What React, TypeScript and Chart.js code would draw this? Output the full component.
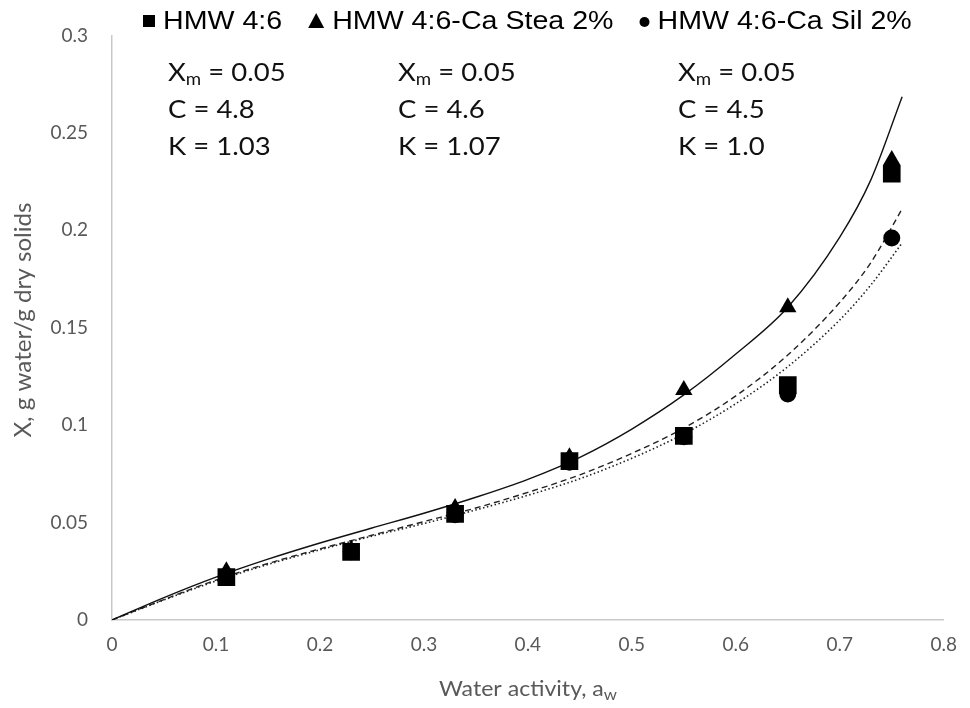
import React, { useEffect, useRef } from "react";
import { Chart, registerables } from "chart.js";

Chart.register(...registerables);

// Fitted curve readings (water activity vs moisture)
const awFit = [0, 0.05, 0.1, 0.15, 0.2, 0.25, 0.3, 0.35, 0.4, 0.45, 0.5, 0.55, 0.6, 0.65, 0.7, 0.73, 0.76];
const steaFit = [0, 0.0115, 0.022, 0.0312, 0.0395, 0.0472, 0.0548, 0.063, 0.0722, 0.0835, 0.098, 0.1155, 0.1365, 0.1605, 0.1965, 0.226, 0.2685];
const hmwFit = [0, 0.0105, 0.0205, 0.029, 0.0365, 0.0435, 0.0505, 0.0575, 0.0655, 0.0745, 0.0855, 0.0985, 0.115, 0.136, 0.163, 0.1835, 0.211];
const silFit = [0, 0.0103, 0.02, 0.0285, 0.036, 0.043, 0.0495, 0.0565, 0.064, 0.0725, 0.083, 0.0955, 0.111, 0.13, 0.154, 0.172, 0.1935];

// Observed points
const awObs = [0.11, 0.23, 0.33, 0.44, 0.55, 0.65, 0.75];
const hmwObs = [0.022, 0.035, 0.0545, 0.0815, 0.0945, 0.1205, 0.229];
const steaObs = [0.025, 0.036, 0.0575, 0.0835, 0.118, 0.1605, 0.236];
const silObs = [0.022, 0.035, 0.054, 0.081, 0.094, 0.116, 0.196];

const seriesNames = ["HMW 4:6", "HMW 4:6-Ca Stea 2%", "HMW 4:6-Ca Sil 2%"];
const xmLabels = ["0.05", "0.05", "0.05"];
const cLabels = ["4.8", "4.6", "4.5"];
const kLabels = ["1.03", "1.07", "1.0"];

const xTicks = [0, 0.1, 0.2, 0.3, 0.4, 0.5, 0.6, 0.7, 0.8];
const yTicks = [0, 0.05, 0.1, 0.15, 0.2, 0.25, 0.3];

const pts = (xs: number[], ys: number[]) => xs.map((x, i) => ({ x, y: ys[i] }));

type Part = { t: string; sub?: boolean };

function drawRich(
  ctx: CanvasRenderingContext2D,
  parts: Part[],
  x: number,
  y: number,
  size: number,
  subSize: number,
  family: string,
  align: "left" | "center",
  sx = 1
) {
  const widths = parts.map((p) => {
    ctx.font = `${p.sub ? subSize : size}px ${family}`;
    return ctx.measureText(p.t).width * sx;
  });
  const total = widths.reduce((a, b) => a + b, 0);
  let cx = align === "center" ? x - total / 2 : x;
  ctx.textBaseline = "middle";
  ctx.textAlign = "left";
  parts.forEach((p, i) => {
    ctx.font = `${p.sub ? subSize : size}px ${family}`;
    ctx.save();
    ctx.translate(cx, p.sub ? y + size * 0.28 : y);
    ctx.scale(sx, 1);
    ctx.fillText(p.t, 0, 0);
    ctx.restore();
    cx += widths[i];
  });
}

const overlayPlugin = {
  id: "overlay",
  afterDraw(chart: any) {
    const ctx: CanvasRenderingContext2D = chart.ctx;
    ctx.save();
    // Legend
    const lf = "'Liberation Sans', Arial, sans-serif";
    ctx.fillStyle = "#000";
    ctx.textBaseline = "middle";
    ctx.textAlign = "left";
    const ly = 21;
    let lx = 143;
    const markers = ["rect", "tri", "circ"];
    seriesNames.forEach((name, i) => {
      const m = markers[i];
      ctx.fillStyle = "#000";
      let mw = 12;
      if (m === "rect") {
        ctx.fillRect(lx, ly - 6, 12, 12);
        mw = 12;
      } else if (m === "tri") {
        ctx.beginPath();
        ctx.moveTo(lx, ly + 7);
        ctx.lineTo(lx + 16, ly + 7);
        ctx.lineTo(lx + 8, ly - 8);
        ctx.closePath();
        ctx.fill();
        mw = 16;
      } else {
        ctx.beginPath();
        ctx.arc(lx + 5, ly + 1, 5, 0, Math.PI * 2);
        ctx.fill();
        mw = 10;
      }
      lx += mw + 8;
      const sx = 1.1;
      ctx.save();
      ctx.translate(lx, ly);
      ctx.scale(sx, 1);
      ctx.font = `26px ${lf}`;
      ctx.fillText(name, 0, 1);
      const w = ctx.measureText(name).width * sx;
      ctx.restore();
      lx += w + 26;
    });

    // Parameter annotations
    const af = "Lato, 'Open Sans', sans-serif";
    ctx.fillStyle = "#111";
    const cols = [168, 398, 678];
    cols.forEach((cx, i) => {
      drawRich(ctx, [{ t: "X" }, { t: "m", sub: true }, { t: " = " + xmLabels[i] }], cx, 73, 25, 17, af, "left", 1.1);
      drawRich(ctx, [{ t: "C = " + cLabels[i] }], cx, 110, 25, 17, af, "left", 1.1);
      drawRich(ctx, [{ t: "K = " + kLabels[i] }], cx, 147, 25, 17, af, "left", 1.1);
    });

    // Axis titles
    ctx.fillStyle = "#595959";
    drawRich(ctx, [{ t: "Water activity, a" }, { t: "w", sub: true }], 528, 689, 22, 16, af, "center", 1.05);
    ctx.save();
    ctx.translate(24, 320);
    ctx.rotate(-Math.PI / 2);
    drawRich(ctx, [{ t: "X, g water/g dry solids" }], 0, 0, 23, 16, af, "center", 1.05);
    ctx.restore();
    ctx.restore();
  },
};

export default function App() {
  const ref = useRef<HTMLCanvasElement | null>(null);
  useEffect(() => {
    if (!ref.current) return;
    const chart = new Chart(ref.current, {
      type: "scatter",
      data: {
        datasets: [
          {
            label: seriesNames[0],
            data: pts(awObs, hmwObs),
            pointStyle: "rect",
            pointRadius: 12.5,
            pointBorderWidth: 0,
            backgroundColor: "#000",
            borderColor: "#000",
            order: 0,
          },
          {
            label: seriesNames[1],
            data: pts(awObs, steaObs),
            pointStyle: "triangle",
            pointRadius: 10,
            pointBorderWidth: 0,
            backgroundColor: "#000",
            borderColor: "#000",
            order: 1,
          },
          {
            label: seriesNames[2],
            data: pts(awObs, silObs),
            pointStyle: "circle",
            pointRadius: 8.5,
            pointBorderWidth: 0,
            backgroundColor: "#000",
            borderColor: "#000",
            order: 2,
          },
          {
            type: "line",
            label: "fit Stea",
            data: pts(awFit, steaFit),
            borderColor: "#111",
            borderWidth: 1.4,
            pointRadius: 0,
            cubicInterpolationMode: "monotone",
            fill: false,
            order: 3,
          } as any,
          {
            type: "line",
            label: "fit HMW",
            data: pts(awFit, hmwFit),
            borderColor: "#222",
            borderWidth: 1.4,
            borderDash: [6, 4],
            pointRadius: 0,
            cubicInterpolationMode: "monotone",
            fill: false,
            order: 4,
          } as any,
          {
            type: "line",
            label: "fit Sil",
            data: pts(awFit, silFit),
            borderColor: "#222",
            borderWidth: 1.6,
            borderDash: [1.5, 2.5],
            pointRadius: 0,
            cubicInterpolationMode: "monotone",
            fill: false,
            order: 5,
          } as any,
        ],
      },
      options: {
        responsive: false,
        animation: false,
        layout: { padding: { top: 20, right: 23, left: 0, bottom: 0 } },
        plugins: {
          legend: { display: false },
          tooltip: { enabled: false },
          title: { display: false },
        },
        scales: {
          x: {
            type: "linear",
            min: 0,
            max: 0.8,
            afterFit: (s: any) => {
              s.height = 88;
            },
            afterBuildTicks: (s: any) => {
              s.ticks = xTicks.map((v) => ({ value: v }));
            },
            grid: { display: false, drawTicks: false },
            border: { display: true, color: "#c9c9c9", width: 1.5 },
            ticks: {
              padding: 13,
              color: "#595959",
              font: { family: "Lato, 'Open Sans', sans-serif", size: 19 },
              callback: (v: any) => String(Number(Number(v).toFixed(2))),
            },
          },
          y: {
            type: "linear",
            min: 0,
            max: 0.3,
            afterFit: (s: any) => {
              s.width = 112;
            },
            afterBuildTicks: (s: any) => {
              s.ticks = yTicks.map((v) => ({ value: v }));
            },
            grid: { display: false, drawTicks: false },
            border: { display: true, color: "#c9c9c9", width: 1.5 },
            ticks: {
              padding: 24,
              color: "#595959",
              font: { family: "Lato, 'Open Sans', sans-serif", size: 19 },
              callback: (v: any) => String(Number(Number(v).toFixed(2))),
            },
          },
        },
      },
      plugins: [overlayPlugin],
    });
    return () => chart.destroy();
  }, []);
  return (
    <div style={{ position: "absolute", left: 0, top: 0, width: 970, height: 708, background: "#fff" }}>
      <canvas ref={ref} width={970} height={708} />
    </div>
  );
}
